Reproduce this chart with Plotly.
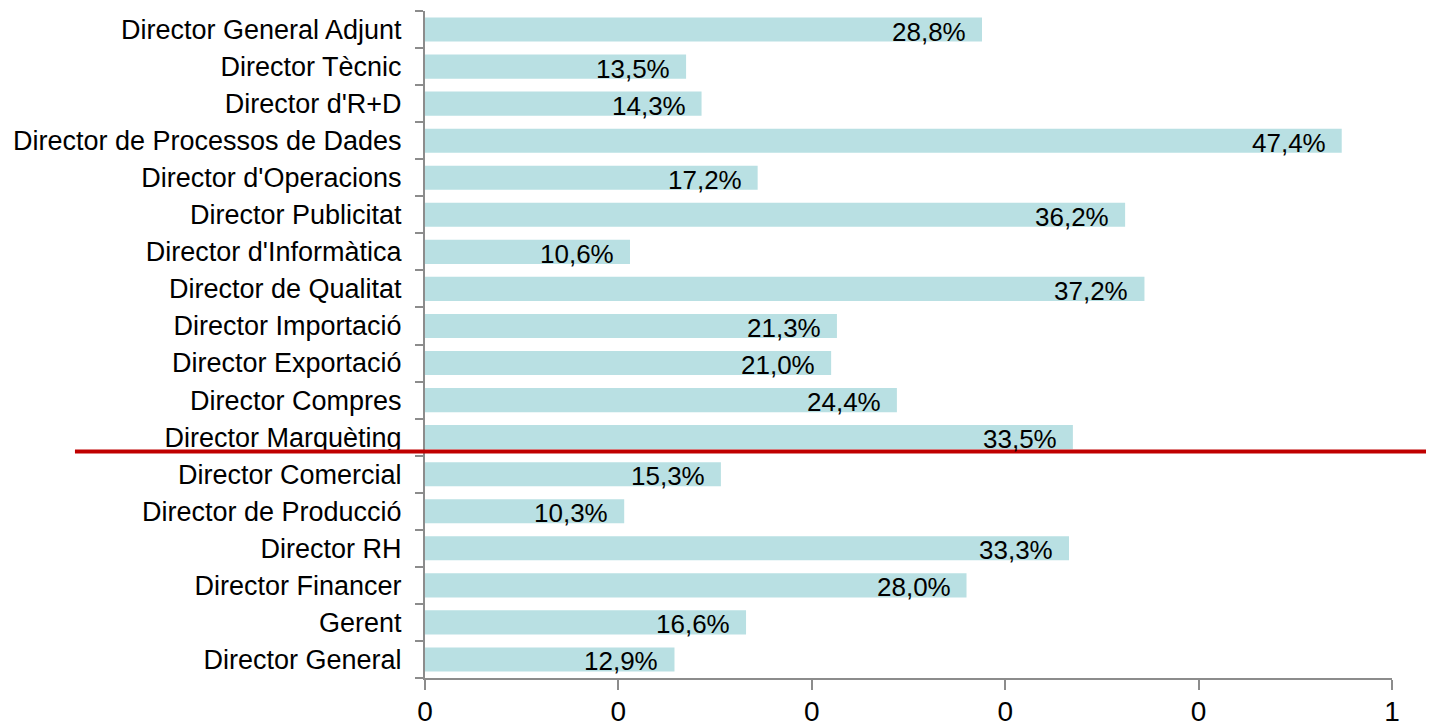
import plotly.graph_objects as go

categories = [
    "Director General Adjunt", "Director Tècnic", "Director d'R+D",
    "Director de Processos de Dades", "Director d'Operacions", "Director Publicitat",
    "Director d'Informàtica", "Director de Qualitat", "Director Importació",
    "Director Exportació", "Director Compres", "Director Marquèting",
    "Director Comercial", "Director de Producció", "Director RH",
    "Director Financer", "Gerent", "Director General",
]
values = [28.8, 13.5, 14.3, 47.4, 17.2, 36.2, 10.6, 37.2, 21.3, 21.0, 24.4, 33.5,
          15.3, 10.3, 33.3, 28.0, 16.6, 12.9]
tick_values = [0, 0.1, 0.2, 0.3, 0.4, 0.5]
tick_labels = ["0", "0", "0", "0", "0", "1"]

# bottom-to-top order for plotly
cats = categories[::-1]
vals = [v / 100 for v in values[::-1]]
texts = [f"{v:.1f}%".replace(".", ",") for v in values[::-1]]

FONT = "Liberation Sans, Arial, Helvetica"

fig = go.Figure()
fig.add_trace(go.Bar(
    x=vals, y=cats, orientation="h",
    marker=dict(color="#B9E0E3", line=dict(width=0)),
    width=0.65,
    hoverinfo="skip",
))

for c, v, t in zip(cats, vals, texts):
    fig.add_annotation(x=v, y=c, text=t, showarrow=False, xanchor="right",
                       xshift=-14, yshift=-2,
                       font=dict(family=FONT, size=26, color="#000000"))

fig.add_shape(type="line", xref="paper", yref="paper",
              x0=-0.362, x1=1.06, y0=0.3396, y1=0.3396,
              line=dict(color="#C00000", width=4))

fig.update_layout(
    width=1426, height=720,
    margin=dict(l=417, r=42, t=3, b=50),
    paper_bgcolor="white", plot_bgcolor="white",
    showlegend=False,
    font=dict(family=FONT, color="#000000"),
    xaxis=dict(range=[0, 0.5], tickvals=tick_values, ticktext=tick_labels,
               showgrid=False, zeroline=False, showline=True, linecolor="#8C8C8C",
               linewidth=2, ticks="outside", ticklen=10, tickwidth=2, tickcolor="#8C8C8C",
               tickfont=dict(size=28, color="#000000"), ticklabelstandoff=-3,
               automargin=False, fixedrange=True),
    yaxis=dict(categoryorder="array", categoryarray=cats, showgrid=False, zeroline=False,
               showline=True, linecolor="#8C8C8C", linewidth=2, ticks="outside",
               tickson="boundaries", ticklen=8, tickwidth=2, tickcolor="#8C8C8C",
               tickfont=dict(size=27, color="#000000"), ticklabelstandoff=16,
               range=[-0.5, 17.5], automargin=False, fixedrange=True),
)

fig.write_html("out.html")
